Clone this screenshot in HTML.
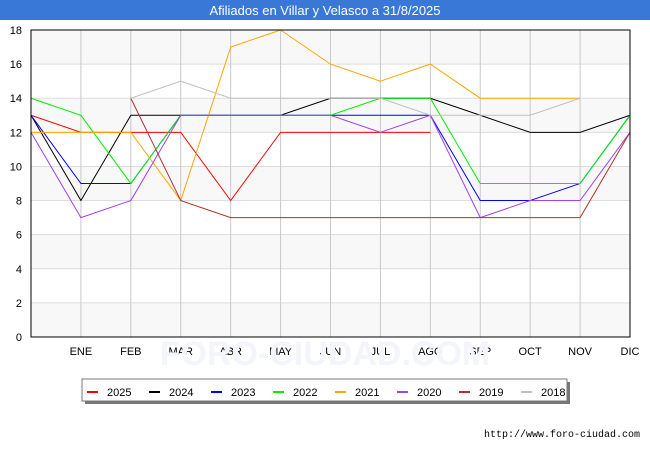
<!DOCTYPE html>
<html><head><meta charset="utf-8"><style>
body{margin:0;width:650px;height:450px;background:#fff;font-family:"Liberation Sans","DejaVu Sans",sans-serif;overflow:hidden}
</style></head><body>
<svg id="c" width="650" height="450" xmlns="http://www.w3.org/2000/svg">
<g id="grid"></g>
<rect x="0" y="0" width="650" height="20" fill="#3a78d8"/>
<text x="325" y="15" text-anchor="middle" fill="#fff" font-size="13">Afiliados en Villar y Velasco a 31/8/2025</text>
<text x="325" y="365" text-anchor="middle" fill="#f3f5fa" font-size="34" font-weight="bold">FORO-CIUDAD.COM</text>
<g id="series"></g>
<rect x="31" y="30" width="599" height="307" fill="none" stroke="#000" stroke-width="1"/>
<g id="legend"></g>
<text x="640" y="437" text-anchor="end" font-size="10" fill="#000" font-family="Liberation Mono, monospace">http://www.foro-ciudad.com</text>
</svg>
<script>
const months=["","ENE","FEB","MAR","ABR","MAY","JUN","JUL","AGO","SEP","OCT","NOV","DIC"];
const yTicks=[0,2,4,6,8,10,12,14,16,18];
const years=["2025","2024","2023","2022","2021","2020","2019","2018"];
const colors=["#ff0000","#000000","#0000ff","#00ee00","#ffa500","#a040f0","#b03030","#c0c0c0"];
const s2025=[13,12,12,12,8,12,12,12,12,null,null,null,null];
const s2024=[13,8,13,13,13,13,14,14,14,13,12,12,13];
const s2023=[13,9,9,13,13,13,13,13,13,8,8,9,13];
const s2022=[14,13,9,13,13,13,13,14,14,9,9,9,13];
const s2021=[12,12,12,8,17,18,16,15,16,14,14,14,null];
const s2020=[12,7,8,13,13,13,13,12,13,7,8,8,12];
const s2019=[null,null,14,8,7,7,7,7,7,7,7,7,12];
const s2018=[null,null,14,15,14,14,14,14,13,13,13,14,null];
const allSeries=[s2025,s2024,s2023,s2022,s2021,s2020,s2019,s2018];
const NS="http://www.w3.org/2000/svg";
const x0=31,x1=630,y0=337,y1=30;
const xS=i=>x0+i*(x1-x0)/12;
const yS=v=>y0-v*(y0-y1)/18;
function mk(t,a){const e=document.createElementNS(NS,t);for(const k in a)e.setAttribute(k,a[k]);return e;}
const g=document.getElementById('grid');
for(let lo=16;lo>=0;lo-=4){
 const r=mk('rect',{x:x0,y:yS(lo+2),width:x1-x0,height:yS(lo)-yS(lo+2),fill:'#f8f8f8'});
 
 
 g.appendChild(r);
}
yTicks.forEach(v=>{
 const l=mk('line',{x1:x0,x2:x1,y1:yS(v),y2:yS(v),stroke:'#dddddd'});
 
 
 g.appendChild(l);
 const t=mk('text',{x:22,y:yS(v)+4,'text-anchor':'end','font-size':11});
 t.textContent=v;
 
 
 g.appendChild(t);
});
months.forEach((m,i)=>{
 if(i==0)return;
 const l=mk('line',{x1:xS(i),x2:xS(i),y1:y1,y2:y0,stroke:'#c8c8c8'});
 
 
 g.appendChild(l);
 const t=mk('text',{x:xS(i),y:355,'text-anchor':'middle','font-size':11});
 t.textContent=m;
 
 
 g.appendChild(t);
});
const sg=document.getElementById('series');
allSeries.forEach((s,k)=>{
 let d='',pen=false;
 s.forEach((v,i)=>{if(v==null){pen=false;return;}d+=(pen?'L':'M')+xS(i)+' '+yS(v)+' ';pen=true;});
 const p=mk('path',{d:d,fill:'none',stroke:colors[k],'stroke-width':1});
 
 
 sg.appendChild(p);
});
const lg=document.getElementById('legend');
const sh=mk('rect',{x:85,y:382,width:485,height:22,fill:'#777'});


lg.appendChild(sh);
const bx=mk('rect',{x:82,y:379,width:485,height:22,fill:'#fff',stroke:'#777'});


lg.appendChild(bx);
years.forEach((y,k)=>{
 const gx=87+k*62;
 const l=mk('line',{x1:gx,x2:gx+11,y1:392,y2:392,stroke:colors[k],'stroke-width':2});
 
 
 lg.appendChild(l);
 const t=mk('text',{x:gx+20,y:396,'font-size':11});
 t.textContent=y;
 
 
 lg.appendChild(t);
});
</script>
</body></html>
